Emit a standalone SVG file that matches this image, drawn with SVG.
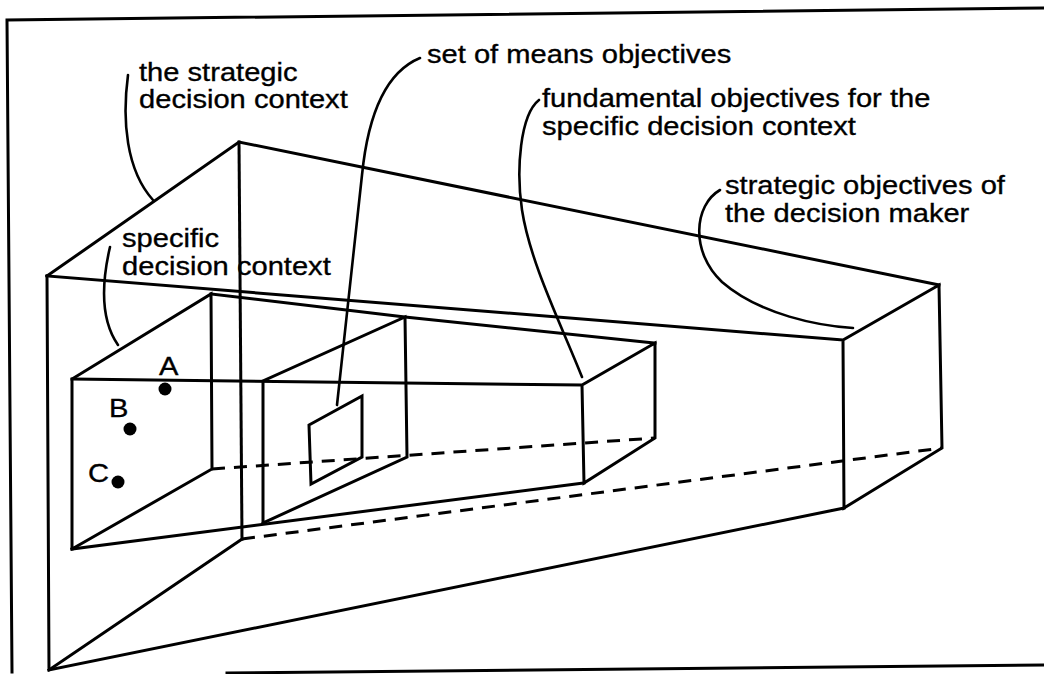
<svg xmlns="http://www.w3.org/2000/svg" width="1044" height="674" viewBox="0 0 1044 674">
<style>
.e{fill:none;stroke:#000;stroke-width:3;stroke-linejoin:miter;stroke-linecap:square}
.d{fill:none;stroke:#000;stroke-width:3;stroke-dasharray:13 9}
.ld{fill:none;stroke:#000;stroke-width:2.6;stroke-linecap:round}
.t{font-family:"Liberation Sans",Arial,Helvetica,sans-serif;font-size:26px;fill:#000;stroke:#000;stroke-width:0.35}
.dot{fill:#000}
</style>
<rect width="1044" height="674" fill="#fff"/>
<g id="frame">
<path class="e" d="M1044,8 L7,20 L12,672"/>
<path class="e" d="M227,673 L1044,665"/>
</g>
<g id="strategic-context">
<path class="e" d="M47,276 L239,142 L939,285"/>
<path class="e" d="M239,142 L242,539"/>
<path class="e" d="M47,276 L49,670 L844,508"/>
<path class="e" d="M47,276 L843,340 L939,285 L942,448 L844,508 L843,340"/>
<path class="e" d="M49,670 L242,539"/>
<path class="d" d="M242,539 L942,448"/>
</g>
<g id="specific-context">
<path class="e" d="M72,549 L72,379 L211,294 L212,469 L72,549"/>
<path class="e" d="M72,379 L582,385 L655,343 L655,438 L584,483 L582,385"/>
<path class="e" d="M211,294 L405,317 L655,343"/>
<path class="e" d="M72,549 L584,483"/>
<path class="d" d="M212,469 L655,438"/>
</g>
<g id="fundamental-objectives">
<path class="e" d="M263,523 L263,381 L405,317 L407,457 L263,523"/>
</g>
<g id="means-objectives">
<path class="e" d="M309,425 L362,396 L362,457 L311,484 Z"/>
</g>
<g id="alternatives">
<circle class="dot" cx="165" cy="389" r="6.5"/>
<circle class="dot" cx="130" cy="429" r="6.5"/>
<circle class="dot" cx="118" cy="482" r="6.5"/>
<text class="t" transform="translate(159,375) scale(1.12,1)">A</text>
<text class="t" transform="translate(109,417) scale(1.12,1)">B</text>
<text class="t" transform="translate(88,482) scale(1.12,1)">C</text>
</g>
<g id="labels">
<text id="lbl-strategic-context" class="t" transform="translate(139,81) scale(1.12,1)"><tspan x="0" y="0">the strategic</tspan><tspan x="0" y="27">decision context</tspan></text>
<text id="lbl-specific-context" class="t" transform="translate(122,247) scale(1.12,1)"><tspan x="0" y="0">specific</tspan><tspan x="0" y="28">decision context</tspan></text>
<text id="lbl-means" class="t" transform="translate(427,63) scale(1.12,1)">set of means objectives</text>
<text id="lbl-fundamental" class="t" transform="translate(542,107) scale(1.12,1)"><tspan x="0" y="0">fundamental objectives for the</tspan><tspan x="0" y="28">specific decision context</tspan></text>
<text id="lbl-strategic-objectives" class="t" transform="translate(725,194) scale(1.12,1)"><tspan x="0" y="0">strategic objectives of</tspan><tspan x="0" y="28">the decision maker</tspan></text>
</g>
<g id="connectors">
<path class="ld" d="M128,75 C122,120 126,170 153,200"/>
<path class="ld" d="M110,247 C100,290 102,322 118,345"/>
<path class="ld" d="M420,58 C386,72 368,115 362,175 L337,405"/>
<path class="ld" d="M539,100 C520,115 516,170 522,210 C530,262 560,322 582,377"/>
<path class="ld" d="M720,190 C694,205 690,252 722,282 C760,315 820,326 853,328"/>
</g>
</svg>
